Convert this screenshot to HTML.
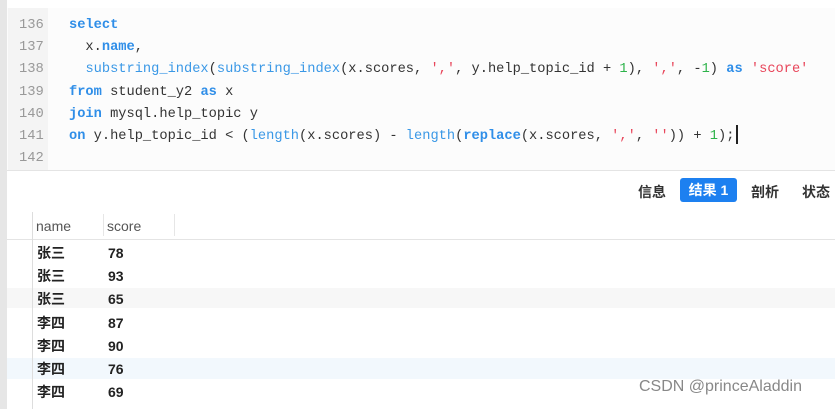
<!DOCTYPE html>
<html><head><meta charset="utf-8"><style>
body{margin:0;width:835px;height:409px;background:#fff;position:relative;overflow:hidden;font-family:"Liberation Sans","Noto Sans CJK SC",sans-serif}
.abs{position:absolute}
.code{font-family:"Liberation Mono",monospace;font-size:13.7px;color:#333;white-space:pre}
.ln{color:#999;font-family:"Liberation Mono",monospace;font-size:13.8px}
.k{color:#2f8ee8;font-weight:bold}
.f{color:#3a98e6}
.s{color:#e8455a}
.n{color:#2db34a}
.cell{position:absolute;font-size:14px;color:#222;font-weight:bold;line-height:20px;height:20px}
</style></head><body>
<div class="abs" style="left:0;top:0;width:7px;height:409px;background:#e6e6e6"></div>
<div class="abs" style="left:7px;top:8px;width:828px;height:162px;background:#fcfcfc"></div>
<div class="abs" style="left:8px;top:8px;width:40px;height:162px;background:#f4f4f4"></div>
<div class="abs" style="left:7px;top:170px;width:828px;height:1px;background:#e4e4e4"></div>
<div class="ln abs" style="left:19px;top:15px;line-height:22.2px">136<br>137<br>138<br>139<br>140<br>141<br>142</div>
<div class="code abs" style="left:69px;top:15px;line-height:22.2px"><span class="k">select</span>
  x.<span class="k">name</span>,
  <span class="f">substring_index</span>(<span class="f">substring_index</span>(x.scores, <span class="s">','</span>, y.help_topic_id + <span class="n">1</span>), <span class="s">','</span>, -<span class="n">1</span>) <span class="k">as</span> <span class="s">'score'</span>
<span class="k">from</span> student_y2 <span class="k">as</span> x
<span class="k">join</span> mysql.help_topic y
<span class="k">on</span> y.help_topic_id &lt; (<span class="f">length</span>(x.scores) - <span class="f">length</span>(<span class="k">replace</span>(x.scores, <span class="s">','</span>, <span class="s">''</span>)) + <span class="n">1</span>);</div>
<div class="abs" style="left:736px;top:125px;width:1.5px;height:19px;background:#222"></div>
<div class="abs" style="left:638px;top:182px;font-size:14px;font-weight:bold;color:#333">信息</div>
<div class="abs" style="left:680px;top:178px;width:57px;height:24px;background:#1d80f0;border-radius:3px;color:#fff;font-size:14px;font-weight:bold;text-align:center;line-height:24px">结果 1</div>
<div class="abs" style="left:751px;top:182px;font-size:14px;font-weight:bold;color:#333">剖析</div>
<div class="abs" style="left:802px;top:182px;font-size:14px;font-weight:bold;color:#333">状态</div>
<div class="abs" style="left:7px;top:239px;width:828px;height:1px;background:#e4e4e4"></div>
<div class="abs" style="left:7px;top:288px;width:828px;height:20px;background:#f7f7f7"></div>
<div class="abs" style="left:7px;top:358px;width:828px;height:21px;background:#f2f8fd"></div>
<div class="abs" style="left:32px;top:212px;width:1px;height:197px;background:#ddd"></div>
<div class="abs" style="left:103px;top:214px;width:1px;height:22px;background:#e6e6e6"></div>
<div class="abs" style="left:174px;top:214px;width:1px;height:22px;background:#e6e6e6"></div>
<div class="abs" style="left:36px;top:218px;font-size:14px;color:#555">name</div>
<div class="abs" style="left:107px;top:218px;font-size:14px;color:#555">score</div>
<div class="cell" style="left:37px;top:243px">张三</div><div class="cell" style="left:108px;top:243px">78</div>
<div class="cell" style="left:37px;top:266px">张三</div><div class="cell" style="left:108px;top:266px">93</div>
<div class="cell" style="left:37px;top:289px">张三</div><div class="cell" style="left:108px;top:289px">65</div>
<div class="cell" style="left:37px;top:313px">李四</div><div class="cell" style="left:108px;top:313px">87</div>
<div class="cell" style="left:37px;top:336px">李四</div><div class="cell" style="left:108px;top:336px">90</div>
<div class="cell" style="left:37px;top:359px">李四</div><div class="cell" style="left:108px;top:359px">76</div>
<div class="cell" style="left:37px;top:382px">李四</div><div class="cell" style="left:108px;top:382px">69</div>
<div class="abs" style="left:639px;top:378px;font-size:16px;color:#888">CSDN @princeAladdin</div>
</body></html>
